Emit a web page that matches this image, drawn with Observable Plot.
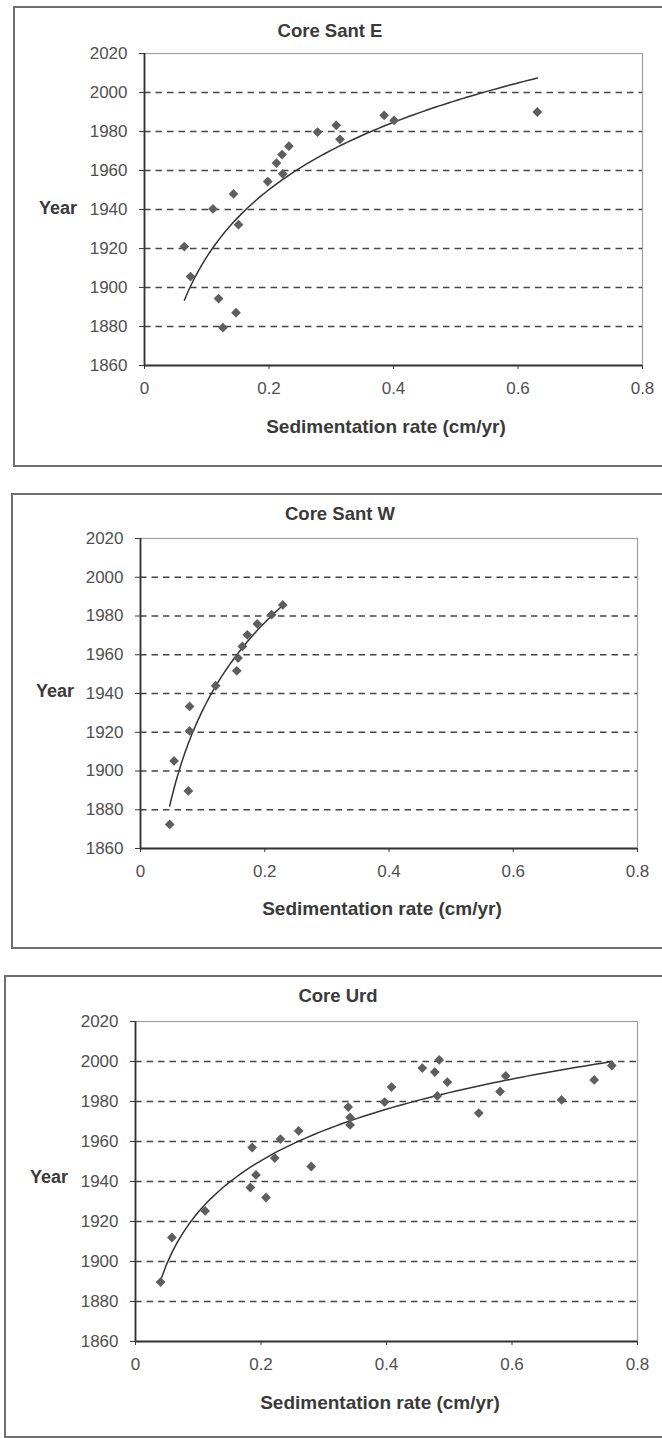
<!DOCTYPE html>
<html>
<head>
<meta charset="utf-8">
<script src="https://cdn.jsdelivr.net/npm/d3@7"></script>
<script src="https://cdn.jsdelivr.net/npm/@observablehq/plot@0.6"></script>
<style>
  html, body { margin: 0; padding: 0; background: #fff; }
  body { width: 662px; height: 1438px; overflow: hidden; position: relative;
         font-family: "Liberation Sans", Arial, sans-serif; }
  .box { position: absolute; border: 2px solid #6e6e6e; box-sizing: border-box; }
  .chart { position: absolute; left: 0; }
  .lbl { position: absolute; transform: translate(-50%, -50%); white-space: nowrap;
         color: #3a3a3a; font-weight: bold; }
  .title { font-size: 18.5px; }
  .xtitle { font-size: 19px; }
  .ytitle { font-size: 18px; }
</style>
</head>
<body>
<script>
// Sedimentation rate (cm/yr) and dated year for each core
const santE_rate = [0.064, 0.074, 0.110, 0.119, 0.126, 0.143, 0.147, 0.151, 0.198, 0.212,
                    0.221, 0.222, 0.232, 0.278, 0.308, 0.314, 0.385, 0.401, 0.631];
const santE_year = [1921, 1905.6, 1940.3, 1894.3, 1879.4, 1948, 1887.1, 1932.2, 1954.3, 1963.8,
                    1968.2, 1958.3, 1972.5, 1979.7, 1983.2, 1976, 1988.3, 1985.7, 1990];

const santW_rate = [0.047, 0.054, 0.077, 0.079, 0.079, 0.121, 0.155, 0.157, 0.164, 0.172,
                    0.188, 0.211, 0.229];
const santW_year = [1872.4, 1905.2, 1889.7, 1920.7, 1933.3, 1944, 1951.7, 1958.3, 1964.3, 1970.3,
                    1975.9, 1980.7, 1985.7];

const urd_rate = [0.040, 0.058, 0.111, 0.183, 0.186, 0.192, 0.208, 0.222, 0.231, 0.260,
                  0.280, 0.339, 0.342, 0.342, 0.397, 0.408, 0.457, 0.477, 0.484, 0.481,
                  0.497, 0.547, 0.581, 0.590, 0.679, 0.731, 0.759];
const urd_year = [1889.7, 1912, 1925.3, 1937, 1957, 1943.3, 1932, 1951.7, 1961.2, 1965.3,
                  1947.5, 1977.2, 1972, 1968.3, 1979.7, 1987.2, 1996.7, 1994.7, 2000.8, 1982.8,
                  1989.7, 1974.2, 1985, 1992.8, 1980.8, 1990.8, 1998];

// Axis ticks and gridlines
const xTicks = [0, 0.2, 0.4, 0.6, 0.8];
const yTicks = [1860, 1880, 1900, 1920, 1940, 1960, 1980, 2000, 2020];
const gridYears = [1880, 1900, 1920, 1940, 1960, 1980, 2000];

const cores = [
  {name: "Core Sant E", rate: santE_rate, year: santE_year},
  {name: "Core Sant W", rate: santW_rate, year: santW_year},
  {name: "Core Urd", rate: urd_rate, year: urd_year}
];

// Page layout of each panel: box, plot frame and label positions
const layout = [
  {box: [13, 6, 470, 461], svgTop: 0, svgH: 470, ml: 144, mr: 20, mt: 53, mb: 105,
   title: [330, 31], ytitle: [58, 208], xtitle: [386, 427]},
  {box: [11, 493, 470, 456], svgTop: 480, svgH: 470, ml: 140, mr: 25, mt: 58, mb: 102,
   title: [340, 514], ytitle: [55, 691], xtitle: [382, 909]},
  {box: [4, 975, 470, 463], svgTop: 960, svgH: 478, ml: 135, mr: 25, mt: 61, mb: 97,
   title: [338, 996], ytitle: [49, 1177], xtitle: [380, 1403]}
];

// Logarithmic least-squares trendline, y = a + b ln(x), over the data range
function logTrend(rate, year) {
  const L = rate.map(Math.log);
  const mL = d3.mean(L), mY = d3.mean(year);
  const b = d3.sum(L, (l, i) => (l - mL) * (year[i] - mY)) / d3.sum(L, l => (l - mL) ** 2);
  const a = mY - b * mL;
  const [x0, x1] = d3.extent(rate);
  return d3.range(0, 81).map(k => {
    const x = x0 + (x1 - x0) * k / 80;
    return {rate: x, year: a + b * Math.log(x)};
  });
}

function addLabel(cls, text, [x, y]) {
  const d = document.createElement("div");
  d.className = "lbl " + cls;
  d.textContent = text;
  d.style.left = x + "px";
  d.style.top = y + "px";
  document.body.appendChild(d);
}

cores.forEach((core, i) => {
  const L = layout[i];
  const box = document.createElement("div");
  box.className = "box";
  box.style.left = L.box[0] + "px";
  box.style.top = L.box[1] + "px";
  box.style.width = (700 - L.box[0]) + "px";
  box.style.height = L.box[3] + "px";
  document.body.appendChild(box);

  const points = core.rate.map((r, k) => ({rate: r, year: core.year[k]}));
  const trend = logTrend(core.rate, core.year);

  const chart = Plot.plot({
    width: 662,
    height: L.svgH,
    marginLeft: L.ml, marginRight: L.mr, marginTop: L.mt, marginBottom: L.mb,
    x: {domain: [0, 0.8]},
    y: {domain: [1860, 2020]},
    style: {fontFamily: "'Liberation Sans', Arial, sans-serif", fontSize: "17px",
            color: "#505050", background: "transparent", overflow: "visible"},
    marks: [
      Plot.ruleY(gridYears, {stroke: "#444", strokeWidth: 1.7, strokeDasharray: "6.5,5"}),
      Plot.frame({stroke: "#a0a0a0", strokeWidth: 1.2}),
      Plot.axisX({ticks: xTicks, tickFormat: d => String(d), tickSize: 4, tickPadding: 12,
                  label: null, stroke: "#3a3a3a", fill: "#505050"}),
      Plot.axisY({ticks: yTicks, tickFormat: d => String(d), tickSize: 5, tickPadding: 12,
                  label: null, stroke: "#3a3a3a", fill: "#505050"}),
      Plot.ruleX([0], {stroke: "#333", strokeWidth: 1.8}),
      Plot.ruleY([1860], {stroke: "#333", strokeWidth: 1.8}),
      Plot.line(trend, {x: "rate", y: "year", stroke: "#333", strokeWidth: 1.5}),
      Plot.dot(points, {x: "rate", y: "year", symbol: "diamond2", r: 4.4, fill: "#5e5e5e", stroke: "none"})
    ]
  });
  chart.classList.add("chart");
  chart.style.top = L.svgTop + "px";
  document.body.appendChild(chart);

  addLabel("title", core.name, L.title);
  addLabel("ytitle", "Year", L.ytitle);
  addLabel("xtitle", "Sedimentation rate (cm/yr)", L.xtitle);
});
</script>
</body>
</html>
